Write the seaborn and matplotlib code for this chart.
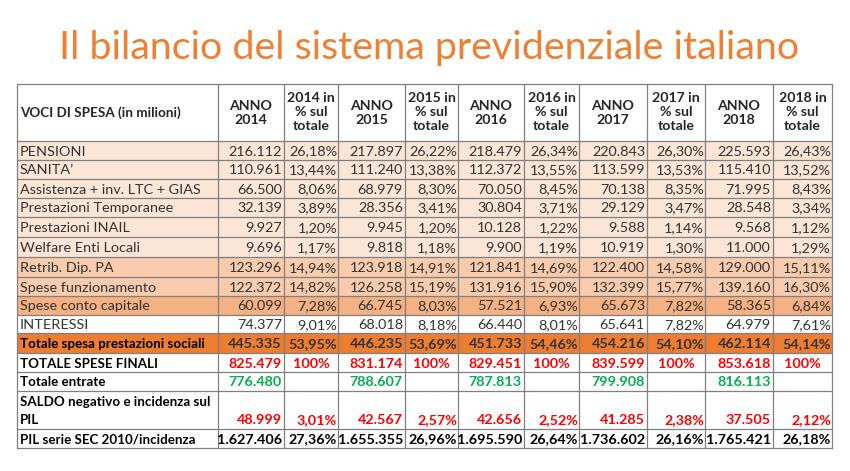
import matplotlib.pyplot as plt
import seaborn as sns
from matplotlib.patches import Rectangle

# Row labels
voci = [
    "PENSIONI", "SANITA’", "Assistenza + inv. LTC + GIAS", "Prestazioni Temporanee",
    "Prestazioni INAIL", "Welfare Enti Locali", "Retrib. Dip. PA", "Spese funzionamento",
    "Spese conto capitale", "INTERESSI", "Totale spesa prestazioni sociali",
    "TOTALE SPESE FINALI", "Totale entrate", "SALDO negativo e incidenza sul\nPIL",
    "PIL serie SEC 2010/incidenza",
]
anni = [2014, 2015, 2016, 2017, 2018]

# Values in milioni, and % sul totale
anno_2014 = [216112, 110961, 66500, 32139, 9927, 9696, 123296, 122372, 60099, 74377, 445335, 825479, 776480, 48999, 1627406]
pct_2014 = [26.18, 13.44, 8.06, 3.89, 1.20, 1.17, 14.94, 14.82, 7.28, 9.01, 53.95, 100, None, 3.01, 27.36]
anno_2015 = [217897, 111240, 68979, 28356, 9945, 9818, 123918, 126258, 66745, 68018, 446235, 831174, 788607, 42567, 1655355]
pct_2015 = [26.22, 13.38, 8.30, 3.41, 1.20, 1.18, 14.91, 15.19, 8.03, 8.18, 53.69, 100, None, 2.57, 26.96]
anno_2016 = [218479, 112372, 70050, 30804, 10128, 9900, 121841, 131916, 57521, 66440, 451733, 829451, 787813, 42656, 1695590]
pct_2016 = [26.34, 13.55, 8.45, 3.71, 1.22, 1.19, 14.69, 15.90, 6.93, 8.01, 54.46, 100, None, 2.52, 26.64]
anno_2017 = [220843, 113599, 70138, 29129, 9588, 10919, 122400, 132399, 65673, 65641, 454216, 839599, 799908, 41285, 1736602]
pct_2017 = [26.30, 13.53, 8.35, 3.47, 1.14, 1.30, 14.58, 15.77, 7.82, 7.82, 54.10, 100, None, 2.38, 26.16]
anno_2018 = [225593, 115410, 71995, 28548, 9568, 11000, 129000, 139160, 58365, 64979, 462114, 853618, 816113, 37505, 1765421]
pct_2018 = [26.43, 13.52, 8.43, 3.34, 1.12, 1.29, 15.11, 16.30, 6.84, 7.61, 54.14, 100, None, 2.12, 26.18]

importi = [anno_2014, anno_2015, anno_2016, anno_2017, anno_2018]
percentuali = [pct_2014, pct_2015, pct_2016, pct_2017, pct_2018]

# Styling per row
fill = ["#FBE5D6"] * 6 + ["#F8CBAD", "#F8CBAD", "#F4B183", "white", "#ED7D31", "white", "white", "white", "white"]
val_color = ["#333333"] * 11 + ["#FF0000", "#00B050", "#FF0000", "black"]
label_color = ["#333333"] * 10 + ["black"] * 5
bold = [False] * 10 + [True] * 5

# Layout in pixel units
col_x = [17, 218, 284, 338, 405, 458, 524, 579, 647, 705, 773, 832]
row_y = [84, 141, 160, 179, 198, 217, 237, 257, 277, 296, 315, 333, 353, 372, 391, 429, 448]


def fmt_num(v):
    return f"{v:,}".replace(",", ".")


def fmt_pct(p):
    if p is None:
        return ""
    if p == 100:
        return "100%"
    return f"{p:.2f}%".replace(".", ",")


sns.set_theme(style="white")
plt.rcParams["font.family"] = ["Lato", "DejaVu Sans"]

fig = plt.figure(figsize=(8.5, 4.71), dpi=100)
ax = fig.add_axes([0, 0, 1, 1])
ax.set_xlim(0, 850)
ax.set_ylim(471, 0)
ax.axis("off")

# Title
ax.text(429, 48, "Il bilancio del sistema previdenziale italiano", color="#EF7F32",
        fontsize=28.4, ha="center", va="center", fontweight="normal")

# Header
fs_h = 10.2
ax.text(col_x[0] + 3, (row_y[0] + row_y[1]) / 2, "VOCI DI SPESA (in milioni)",
        fontsize=9.7, fontweight="bold", ha="left", va="center")
for i, anno in enumerate(anni):
    c = 1 + 2 * i
    ax.text((col_x[c] + col_x[c + 1]) / 2, (row_y[0] + row_y[1]) / 2, f"ANNO\n{anno}",
            fontsize=fs_h, fontweight="bold", ha="center", va="center", linespacing=1.2)
    ax.text((col_x[c + 1] + col_x[c + 2]) / 2, (row_y[0] + row_y[1]) / 2,
            f"{anno} in\n% sul\ntotale",
            fontsize=fs_h, fontweight="bold", ha="center", va="center", linespacing=1.2)

# Body
fs = 10.4
for r, voce in enumerate(voci):
    y0, y1 = row_y[r + 1], row_y[r + 2]
    ax.add_patch(Rectangle((col_x[0], y0), col_x[-1] - col_x[0], y1 - y0,
                           facecolor=fill[r], edgecolor="none", zorder=0))
    w = "bold" if bold[r] else "normal"
    fs_l = 9.6 if bold[r] else fs
    ym = (y0 + y1) / 2 + 1
    if "\n" in voce:
        ax.text(col_x[0] + 3, ym, voce, fontsize=fs_l, fontweight=w, color=label_color[r],
                ha="left", va="center", linespacing=1.5)
        ym = y1 - 9
    else:
        ax.text(col_x[0] + 3, ym, voce, fontsize=fs_l, fontweight=w, color=label_color[r],
                ha="left", va="center")
    for i in range(len(anni)):
        c = 1 + 2 * i
        ax.text(col_x[c + 1] - 2, ym, fmt_num(importi[i][r]), fontsize=fs, fontweight=w,
                color=val_color[r], ha="right", va="center")
        p = percentuali[i][r]
        if p == 100:
            ax.text((col_x[c + 1] + col_x[c + 2]) / 2, ym, fmt_pct(p), fontsize=fs,
                    fontweight=w, color=val_color[r], ha="center", va="center")
        else:
            ax.text(col_x[c + 2] - 1, ym, fmt_pct(p), fontsize=fs, fontweight=w,
                    color="black" if r == 14 else val_color[r], ha="right", va="center")

# Grid lines
for x in col_x:
    ax.plot([x, x], [row_y[0], row_y[-1]], color="#7F7F7F", lw=0.9, zorder=2)
for y in row_y:
    ax.plot([col_x[0], col_x[-1]], [y, y], color="#7F7F7F", lw=0.9, zorder=2)

fig.savefig("out.png", dpi=100)
